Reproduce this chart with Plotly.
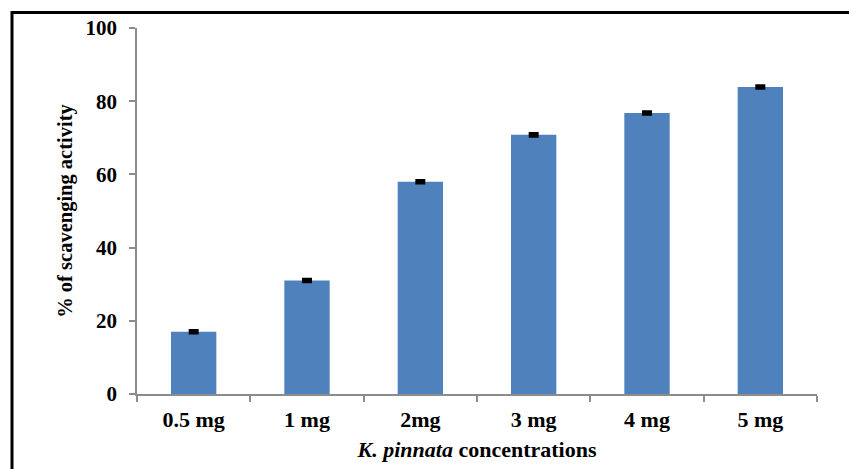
import plotly.graph_objects as go

categories = ["0.5 mg", "1 mg", "2mg", "3 mg", "4 mg", "5 mg"]
values = [17.0, 31.0, 58.0, 70.8, 76.8, 83.9]
errors = [0.35, 0.35, 0.35, 0.35, 0.35, 0.35]
y_ticks = [0, 20, 40, 60, 80, 100]

W, H = 849, 469
L, R, T, B = 137, 32, 28, 75
pw, ph = W - L - R, H - T - B

fig = go.Figure()
fig.add_trace(go.Bar(
    x=categories, y=values,
    marker=dict(color="#4F81BD", line=dict(width=0)),
    error_y=dict(type="data", array=errors, color="black", thickness=3, width=5, visible=True),
))

font_family = "'Times New Roman', 'Liberation Serif', 'DejaVu Serif', serif"
fig.update_layout(
    width=W, height=H,
    margin=dict(l=L, r=R, t=T, b=B, autoexpand=False),
    plot_bgcolor="white", paper_bgcolor="white",
    bargap=0.6,
    showlegend=False,
    font=dict(family=font_family, color="black"),
    xaxis=dict(
        type="category",
        showline=True, linecolor="#8C8C8C", linewidth=1.5,
        ticks="outside", tickson="boundaries", ticklen=6, tickcolor="#8C8C8C", tickwidth=1.5,
        tickfont=dict(family=font_family, size=22, color="black"),
        ticklabelstandoff=5,
        showgrid=False, automargin=False,
        title=dict(text="<b><i>K. pinnata</i> concentrations</b>",
                   font=dict(family=font_family, size=22, color="black"), standoff=10),
    ),
    yaxis=dict(
        range=[0, 100], tickvals=y_ticks,
        showline=True, linecolor="#8C8C8C", linewidth=1.5,
        ticks="outside", ticklen=6, tickcolor="#8C8C8C", tickwidth=1.5,
        tickfont=dict(family=font_family, size=21, color="black"),
        ticklabelstandoff=8,
        showgrid=False, zeroline=False, automargin=False,
        title=dict(text="<b>% of scavenging activity</b>",
                   font=dict(family=font_family, size=20.5, color="black"), standoff=7),
    ),
)
fig.update_xaxes(ticktext=["<b>%s</b>" % c for c in categories], tickvals=categories)
fig.update_yaxes(ticktext=["<b>%d</b>" % v for v in y_ticks])

# outer black frame (extends past right and bottom edges, as in the reference)
fig.add_shape(type="rect", xref="paper", yref="paper",
              x0=(12 - L) / pw, x1=(W + 20 - L) / pw,
              y0=-(H + 20 - T - ph) / ph, y1=1 + (T - 12.5) / ph,
              line=dict(color="black", width=3), fillcolor="rgba(0,0,0,0)", layer="above")

fig.write_html("out.html", config={"displayModeBar": False},
               post_script="document.body.style.margin='0';document.body.style.overflow='hidden';")
